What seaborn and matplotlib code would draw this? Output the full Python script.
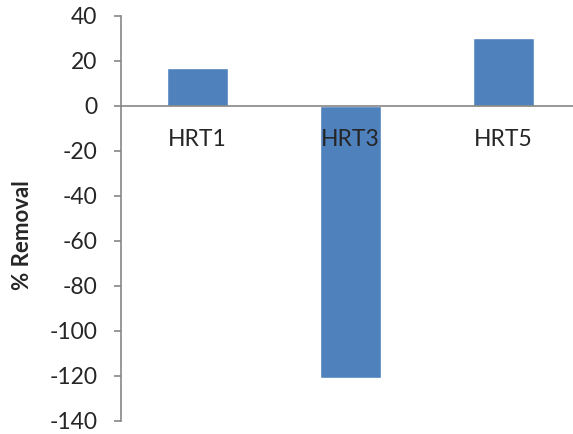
import pandas as pd
import numpy as np
import matplotlib
matplotlib.use("Agg")
import matplotlib.pyplot as plt
import seaborn as sns

# data
categories = ['HRT1', 'HRT3', 'HRT5']
removal = [16.5, -121, 30]

df = pd.DataFrame({'hrt': categories, 'removal': removal})

sns.set_style("white")
plt.rcParams['font.family'] = ['Lato', 'DejaVu Sans']
plt.rcParams['axes.unicode_minus'] = False

fig = plt.figure(figsize=(5.73, 4.34), dpi=100)
ax = fig.add_axes([121/573, 13.5/434, 452/573, 405/434])

sns.barplot(data=df, x='hrt', y='removal', color='#4F81BD', width=0.4,
            saturation=1, ax=ax)

ax.set_ylim(-140, 40)
ax.set_yticks(np.arange(-140, 41, 20))
ax.set_xlim(-0.5, 2.454)
ax.set_axisbelow(False)

grey = '#868686'
for s in ['top', 'right']:
    ax.spines[s].set_visible(False)
ax.spines['left'].set_color(grey)
ax.spines['bottom'].set_color(grey)
ax.spines['bottom'].set_position(('data', 0))
ax.spines['left'].set_linewidth(1.2)
ax.spines['bottom'].set_linewidth(1.2)

# category labels without tick marks, boundary ticks as minor ticks
ax.set_xticks([0, 1, 2])
ax.set_xticklabels(categories)
ax.set_xticks([0.5, 1.5], minor=True)
ax.tick_params(axis='x', which='major', length=0, pad=17, labelsize=16.5)
ax.tick_params(axis='x', which='minor', length=5, direction='out', color=grey, width=1.2)
ax.tick_params(axis='y', length=5, direction='out', color=grey, width=1.2,
               labelsize=16.5, pad=12, left=True)

ax.set_xlabel('')
ax.set_ylabel('% Removal', fontsize=16, fontweight='bold')
ax.yaxis.set_label_coords(-0.195, 0.458)

fig.savefig('out.png', dpi=100)
